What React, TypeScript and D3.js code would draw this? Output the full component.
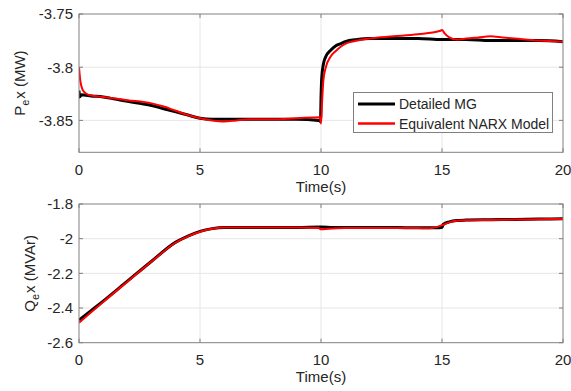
import React, { useEffect, useRef } from "react";
import * as d3 from "d3";

// Active power Pe x (MW), time in seconds
const pTime = [0, 0.02, 0.1, 0.5, 1, 1.5, 2, 2.5, 3, 3.5, 4, 4.5, 5, 5.5, 6, 7, 8, 9, 9.9, 9.98, 10.0, 10.03, 10.1, 10.2, 10.4, 10.6, 10.8, 11, 11.5, 12, 13, 14, 15, 15.5, 16, 17, 18, 19, 20];
const pDetailed = [-3.822, -3.828, -3.826, -3.827, -3.828, -3.830, -3.832, -3.834, -3.836, -3.839, -3.842, -3.845, -3.848, -3.849, -3.849, -3.849, -3.849, -3.849, -3.850, -3.851, -3.83, -3.81, -3.797, -3.79, -3.784, -3.780, -3.778, -3.776, -3.774, -3.773, -3.773, -3.773, -3.774, -3.774, -3.774, -3.775, -3.775, -3.775, -3.776];

const pTimeNarx = [0, 0.05, 0.1, 0.2, 0.4, 1, 2, 3, 3.5, 4, 4.5, 5, 5.5, 6, 6.5, 7, 8, 9, 9.95, 10, 10.05, 10.1, 10.2, 10.4, 10.6, 10.8, 11, 11.5, 12, 13, 14, 14.9, 15.0, 15.1, 15.3, 15.6, 16, 16.5, 17, 17.5, 18, 19, 20];
const pNarx = [-3.800, -3.812, -3.818, -3.823, -3.826, -3.828, -3.831, -3.834, -3.837, -3.841, -3.845, -3.848, -3.850, -3.851, -3.850, -3.849, -3.849, -3.848, -3.847, -3.853, -3.83, -3.812, -3.80, -3.79, -3.785, -3.781, -3.778, -3.775, -3.773, -3.771, -3.769, -3.766, -3.765, -3.768, -3.772, -3.774, -3.773, -3.772, -3.771, -3.772, -3.773, -3.775, -3.776];

// Reactive power Qe x (MVAr)
const qTime = [0, 0.5, 1, 2, 3, 4, 4.5, 5, 5.5, 6, 7, 8, 9, 10, 10.5, 11, 12, 13, 14, 14.9, 15, 15.05, 15.3, 15.6, 16, 17, 18, 19, 20];
const qDetailed = [-2.470, -2.415, -2.36, -2.245, -2.13, -2.02, -1.985, -1.958, -1.942, -1.935, -1.935, -1.935, -1.935, -1.933, -1.936, -1.936, -1.936, -1.936, -1.937, -1.937, -1.935, -1.918, -1.903, -1.895, -1.893, -1.891, -1.889, -1.887, -1.885];

const qTimeNarx = [0, 0.5, 1, 2, 3, 4, 4.5, 5, 5.5, 6, 7, 8, 9, 9.9, 10, 10.3, 11, 12, 13, 14, 14.5, 14.8, 15, 15.3, 15.6, 16, 17, 18, 19, 20];
const qNarx = [-2.485, -2.425, -2.365, -2.248, -2.132, -2.022, -1.987, -1.960, -1.943, -1.936, -1.936, -1.936, -1.936, -1.938, -1.946, -1.943, -1.939, -1.938, -1.938, -1.939, -1.940, -1.932, -1.922, -1.906, -1.897, -1.894, -1.892, -1.890, -1.888, -1.886];

const xTicks = [0, 5, 10, 15, 20];
const pTicks = [-3.85, -3.8, -3.75];
const qTicks = [-2.6, -2.4, -2.2, -2, -1.8];

const legendLabels = ["Detailed MG", "Equivalent NARX Model"];
const colors = ["#000000", "#ff0000"];

const FONT = "Liberation Sans, Arial, Helvetica, sans-serif";
const TEXT = "#262626";
const BOX = "#808080";
const GRID = "#e6e6e6";
const FS = 15;

export default function App() {
  const ref = useRef<SVGSVGElement>(null);

  useEffect(() => {
    const svg = d3.select(ref.current);
    svg.selectAll("*").remove();

    const left = 79;
    const right = 563;
    const x = d3.scaleLinear().domain([0, 20]).range([left, right]);

    const panels = [
      {
        top: 14, bottom: 152.3, domain: [-3.88, -3.75], ticks: pTicks,
        series: [
          { t: pTime, v: pDetailed, w: 3 },
          { t: pTimeNarx, v: pNarx, w: 2 },
        ],
        label: ["P", "e", "x (MW)"], labelX: 20,
      },
      {
        top: 204, bottom: 342.7, domain: [-2.6, -1.8], ticks: qTicks,
        series: [
          { t: qTime, v: qDetailed, w: 3 },
          { t: qTimeNarx, v: qNarx, w: 2 },
        ],
        label: ["Q", "e", "x (MVAr)"], labelX: 30,
      },
    ];

    panels.forEach((p, pi) => {
      const y = d3.scaleLinear().domain(p.domain).range([p.bottom, p.top]);
      const g = svg.append("g");
      const clipId = `clip${pi}`;
      g.append("clipPath").attr("id", clipId)
        .append("rect").attr("x", left).attr("y", p.top)
        .attr("width", right - left).attr("height", p.bottom - p.top);

      g.append("rect").attr("x", left).attr("y", p.top)
        .attr("width", right - left).attr("height", p.bottom - p.top)
        .attr("fill", "#fff");

      // grid
      xTicks.forEach((t) => {
        if (t === 0 || t === 20) return;
        g.append("line").attr("x1", x(t)).attr("x2", x(t))
          .attr("y1", p.top).attr("y2", p.bottom)
          .attr("stroke", GRID).attr("stroke-width", 1);
      });
      p.ticks.forEach((t) => {
        const yy = y(t);
        if (Math.abs(yy - p.top) < 1 || Math.abs(yy - p.bottom) < 1) return;
        g.append("line").attr("x1", left).attr("x2", right)
          .attr("y1", yy).attr("y2", yy)
          .attr("stroke", GRID).attr("stroke-width", 1);
      });

      // series
      const line = d3.line<[number, number]>()
        .x((d) => x(d[0])).y((d) => y(d[1]))
        .curve(d3.curveMonotoneX);
      p.series.forEach((s, si) => {
        const pts: [number, number][] = s.t.map((tt, i) => [tt, s.v[i]]);
        g.append("path").attr("d", line(pts) as string)
          .attr("fill", "none").attr("stroke", colors[si])
          .attr("stroke-width", s.w).attr("stroke-linejoin", "round")
          .attr("clip-path", `url(#${clipId})`);
      });

      // frame
      g.append("rect").attr("x", left).attr("y", p.top)
        .attr("width", right - left).attr("height", p.bottom - p.top)
        .attr("fill", "none").attr("stroke", BOX).attr("stroke-width", 1);

      // ticks and tick labels
      xTicks.forEach((t) => {
        g.append("line").attr("x1", x(t)).attr("x2", x(t))
          .attr("y1", p.bottom).attr("y2", p.bottom - 4).attr("stroke", BOX);
        g.append("line").attr("x1", x(t)).attr("x2", x(t))
          .attr("y1", p.top).attr("y2", p.top + 4).attr("stroke", BOX);
        g.append("text").attr("x", x(t)).attr("y", p.bottom + 22.5)
          .attr("text-anchor", "middle").attr("font-family", FONT)
          .attr("font-size", FS).attr("fill", TEXT).text(String(t));
      });
      p.ticks.forEach((t) => {
        g.append("line").attr("x1", left).attr("x2", left + 4)
          .attr("y1", y(t)).attr("y2", y(t)).attr("stroke", BOX);
        g.append("line").attr("x1", right).attr("x2", right - 4)
          .attr("y1", y(t)).attr("y2", y(t)).attr("stroke", BOX);
        g.append("text").attr("x", left - 6).attr("y", y(t))
          .attr("dy", "0.36em").attr("text-anchor", "end")
          .attr("font-family", FONT).attr("font-size", FS)
          .attr("fill", TEXT).text(String(t));
      });

      // x axis title
      g.append("text").attr("x", (left + right) / 2).attr("y", p.bottom + 39.5)
        .attr("text-anchor", "middle").attr("font-family", FONT)
        .attr("font-size", FS).attr("fill", TEXT).text("Time(s)");

      // y axis title with subscript
      const cy = (p.top + p.bottom) / 2;
      const yl = g.append("text")
        .attr("transform", `translate(${p.labelX},${cy}) rotate(-90)`)
        .attr("text-anchor", "middle").attr("dy", "0.36em")
        .attr("font-family", FONT).attr("font-size", FS).attr("fill", TEXT);
      yl.append("tspan").text(p.label[0]);
      yl.append("tspan").attr("dy", 4).attr("font-size", 11).text(p.label[1]);
      yl.append("tspan").attr("dy", -4).attr("dx", 1).text(p.label[2]);
    });

    // legend
    const lg = svg.append("g");
    lg.append("rect").attr("x", 353.5).attr("y", 92.5)
      .attr("width", 199).attr("height", 40)
      .attr("fill", "#fff").attr("stroke", BOX).attr("stroke-width", 1);
    legendLabels.forEach((lab, i) => {
      const yy = 104 + i * 19.5;
      lg.append("line").attr("x1", 358).attr("x2", 395)
        .attr("y1", yy).attr("y2", yy)
        .attr("stroke", colors[i]).attr("stroke-width", i === 0 ? 3 : 2.5);
      lg.append("text").attr("x", 399).attr("y", yy).attr("dy", "0.36em")
        .attr("font-family", FONT).attr("font-size", 14)
        .attr("fill", TEXT).text(lab);
    });
  }, []);

  return (
    <svg ref={ref} width={571} height={391}
      style={{ position: "absolute", left: 0, top: 0, background: "#fff" }} />
  );
}
